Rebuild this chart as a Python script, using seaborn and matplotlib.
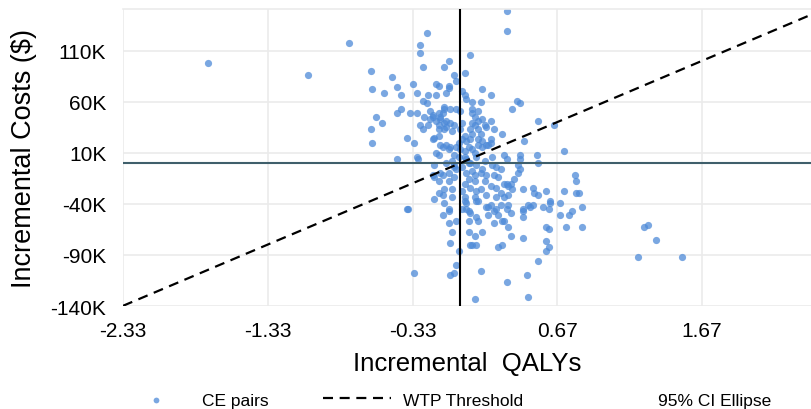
import matplotlib
matplotlib.use("Agg")
import matplotlib.pyplot as plt
import seaborn as sns
import pandas as pd
from matplotlib.patches import Patch

# incremental QALYs / costs (costs in $ thousands)
qaly = [
    -1.74, -1.05, -0.77, 0.32, 0.32, 1.23, 1.27, 1.30, 1.35, 1.53,
    -0.23, -0.28, -0.28, -0.62, -0.26, -0.47, -0.08, -0.11, 0.07, -0.04,
    0.03, -0.03, -0.61, -0.53, -0.44, -0.41, -0.33, -0.30, -0.22, -0.17,
    -0.15, -0.17, -0.10, -0.08, -0.08, 0.01, 0.03, 0.04, -0.26, -0.23,
    0.15, 0.21, 0.08, 0.14, 0.39, 0.41,
    -0.41, -0.44, -0.35, -0.30, -0.58, -0.54, -0.62, -0.37, -0.61, -0.32,
    -0.44, -0.30, -0.29, -0.28, -0.26, -0.22, -0.25, -0.21, -0.19, -0.15,
    -0.14, -0.11, -0.07, -0.03, 0.00, -0.15, -0.11, -0.10, -0.07, -0.06,
    -0.04, -0.18, -0.15, -0.19, -0.14, -0.10, -0.07, -0.03, -0.01, 0.00,
    0.03, 0.06, -0.17, -0.15, -0.04, -0.01, 0.04, 0.03, -0.10, -0.04,
    0.06, -0.18, -0.19, -0.21, -0.17, -0.11, -0.12, -0.14, -0.15, -0.11,
    -0.10, -0.12, -0.08, -0.06, -0.03, -0.04,
    -0.19, -0.15, -0.12, -0.08, -0.08, -0.04, 0.04, 0.06, -0.15, -0.12,
    -0.11, -0.06, -0.06, -0.18, -0.11, 0.03, 0.04, -0.08, 0.01, -0.37,
    -0.36, -0.14, -0.18,
    -0.08, -0.12, -0.03, -0.08, -0.06, -0.07, -0.01, -0.03, -0.04, -0.07,
    -0.32, 0.04, 0.06, 0.06, 0.07, 0.06,
    0.03, 0.07, 0.11, 0.11, 0.12, 0.10, 0.15, 0.08, 0.11, 0.14,
    0.10, 0.19, 0.19, 0.23, 0.23, 0.26, 0.28, 0.25, 0.29, 0.30,
    0.32, 0.33, 0.35, 0.33, 0.35, 0.29, 0.26, 0.32, 0.43, 0.43,
    0.43, 0.43, 0.47, 0.48, 0.46, 0.47, 0.54, 0.57, 0.59, 0.61,
    0.59, 0.61, 0.59, 0.61, 0.62, 0.69, 0.69, 0.73, 0.75, 0.77,
    0.84, 0.84, 0.18,
    0.36, 0.54, 0.65, 0.44, 0.29, 0.72, 0.53, 0.54, 0.41, 0.41,
    0.40, 0.30, 0.32, 0.41, 0.40, 0.37, 0.35, 0.32, 0.36, 0.43,
    0.50, 0.51, 0.54, 0.59, 0.72, 0.79, 0.80, 0.80, 0.82, 0.62,
    0.50, 0.21,
    0.08, 0.10, 0.15, 0.18, 0.21, 0.23, 0.17, 0.10, 0.12, 0.08,
    0.14, 0.21, 0.18, 0.12, 0.15, 0.10, 0.08, 0.11, 0.22, 0.22,
    0.25, 0.28, 0.17, 0.15, 0.14, 0.08, 0.10, 0.18, 0.23, 0.26,
    0.10, 0.17, 0.21, 0.25, 0.11, 0.14, 0.18, 0.25, 0.28, 0.10,
    0.12, 0.30, 0.33, 0.30, 0.33,
    0.08, 0.12, 0.01, 0.00, 0.08, 0.07, 0.12, 0.03, 0.07, 0.12,
    0.15, 0.19, 0.21,
    0.01, 0.03, 0.07, 0.01, 0.07, 0.11, 0.04, 0.01,
]
cost = [
    98, 86, 118, 149, 129, -92, -63, -61, -75, -92,
    127, 116, 108, 90, 94, 84, 100, 94, 106, 86,
    88, 80, 73, 69, 75, 67, 78, 69, 67, 78,
    76, 67, 69, 76, 74, 71, 67, 63, 61, 59,
    73, 67, 60, 60, 61, 59,
    53, 49, 49, 49, 45, 39, 33, 25, 20, 20,
    4, 6, 4, 37, 33, 37, 45, 51, 45, 49,
    43, 53, 53, 53, 51, 37, 33, 41, 39, 31,
    37, 25, 27, 24, 18, 18, 16, 16, 20, 14,
    12, 16, 10, 8, 8, 6, 4, 6, 0, -2,
    0, -2, 47, 43, 41, 55, 49, 45, 33, 39,
    35, 16, 14, 2, -6, -4,
    -12, -18, -12, -10, -18, -14, -10, -16, -29, -31,
    -25, -25, -33, -35, -39, -33, -39, -45, -45, -45,
    -45, -10, -14,
    -47, -51, -57, -59, -67, -78, -86, -100, -108, -110,
    -108, -45, -57, -67, -80, -47,
    -37, -49, -37, -53, -57, -71, -67, -80, -80, -106,
    -133, -43, -51, -47, -59, -51, -41, -45, -57, -57,
    -45, -41, -49, -63, -71, -80, -82, -116, -45, -47,
    -53, -73, -41, -43, -110, -131, -96, -43, -63, -65,
    -76, -82, -86, -45, -39, -39, -51, -63, -51, -47,
    -43, -63, -43,
    53, 41, 37, 22, 29, 12, 8, 0, 8, 4,
    -2, 8, 4, -6, -10, -16, -20, -20, -25, -25,
    -24, -29, -31, -27, -27, -12, -18, -29, -29, -37,
    -41, -41,
    49, 45, 43, 35, 41, 33, 37, 37, 33, 29,
    29, 24, 18, 18, 16, 10, 14, 6, 6, -2,
    -4, -6, 2, -6, -10, -8, -12, -12, -12, -14,
    -18, -18, -22, -24, -27, -25, -31, -33, -29, -33,
    -37, -33, -31, -20, -22,
    53, 51, 39, 33, 39, 33, 41, 27, 24, 24,
    22, 18, 20,
    -4, -20, -24, -27, 0, -2, 22, 24,
]

wtp = 60  # $K per QALY
x_ticks = [-2.33, -1.33, -0.33, 0.67, 1.67]
y_ticks = [-140, -90, -40, 10, 60, 110]

df = pd.DataFrame({"qaly": qaly, "cost": cost})

sns.set_theme(style="whitegrid")
plt.rcParams["font.family"] = ["Liberation Sans", "DejaVu Sans"]
plt.rcParams["text.color"] = "black"
plt.rcParams["axes.labelcolor"] = "black"
plt.rcParams["xtick.color"] = "black"
plt.rcParams["ytick.color"] = "black"

fig = plt.figure(figsize=(8.12, 4.10), dpi=100)
ax = fig.add_axes([0.1515, 0.2512, 0.8485, 0.7244])

sns.scatterplot(data=df, x="qaly", y="cost", ax=ax, color="#4d8ad8",
                alpha=0.75, s=27, linewidth=0, zorder=2, label="CE pairs")

ax.axline((0, 0), slope=wtp, color="black", lw=1.6,
          linestyle=(0, (4.5, 3.0)), zorder=4, label="WTP Threshold")
ax.axhline(0, color="#3f5f6b", lw=1.5, zorder=3)
ax.axvline(0, color="black", lw=1.5, zorder=3)

ax.set_xlim(-2.33, 2.43)
ax.set_ylim(-140, 151)
ax.set_xticks(x_ticks)
ax.set_xticklabels([f"{v:.2f}" for v in x_ticks])
ax.set_yticks(y_ticks)
ax.set_yticklabels([f"{v}K" for v in y_ticks])
ax.tick_params(axis="x", labelsize=15, pad=11, length=0)
ax.tick_params(axis="y", labelsize=15, pad=12, length=0)
ax.grid(True, color="#ebebeb", lw=1.2)
for side in ["left", "bottom", "right"]:
    ax.spines[side].set_visible(False)
ax.spines["top"].set_color("#ebebeb")
ax.spines["top"].set_linewidth(1.2)

ax.set_xlabel("Incremental  QALYs", fontsize=18.5, labelpad=8)
ax.set_ylabel("Incremental Costs ($)", fontsize=19.5, labelpad=10)

ax.get_legend().remove()
handles, labels = ax.get_legend_handles_labels()
handles.append(Patch(facecolor="none", edgecolor="none"))
labels.append("95% CI Ellipse")
fig.legend(handles, labels, loc="center", bbox_to_anchor=(0.55, 0.022),
           ncol=3, frameon=False, fontsize=12.5, handlelength=3.9,
           handletextpad=0.7, columnspacing=3.15, markerscale=0.8)

fig.savefig("out.png", dpi=100)
